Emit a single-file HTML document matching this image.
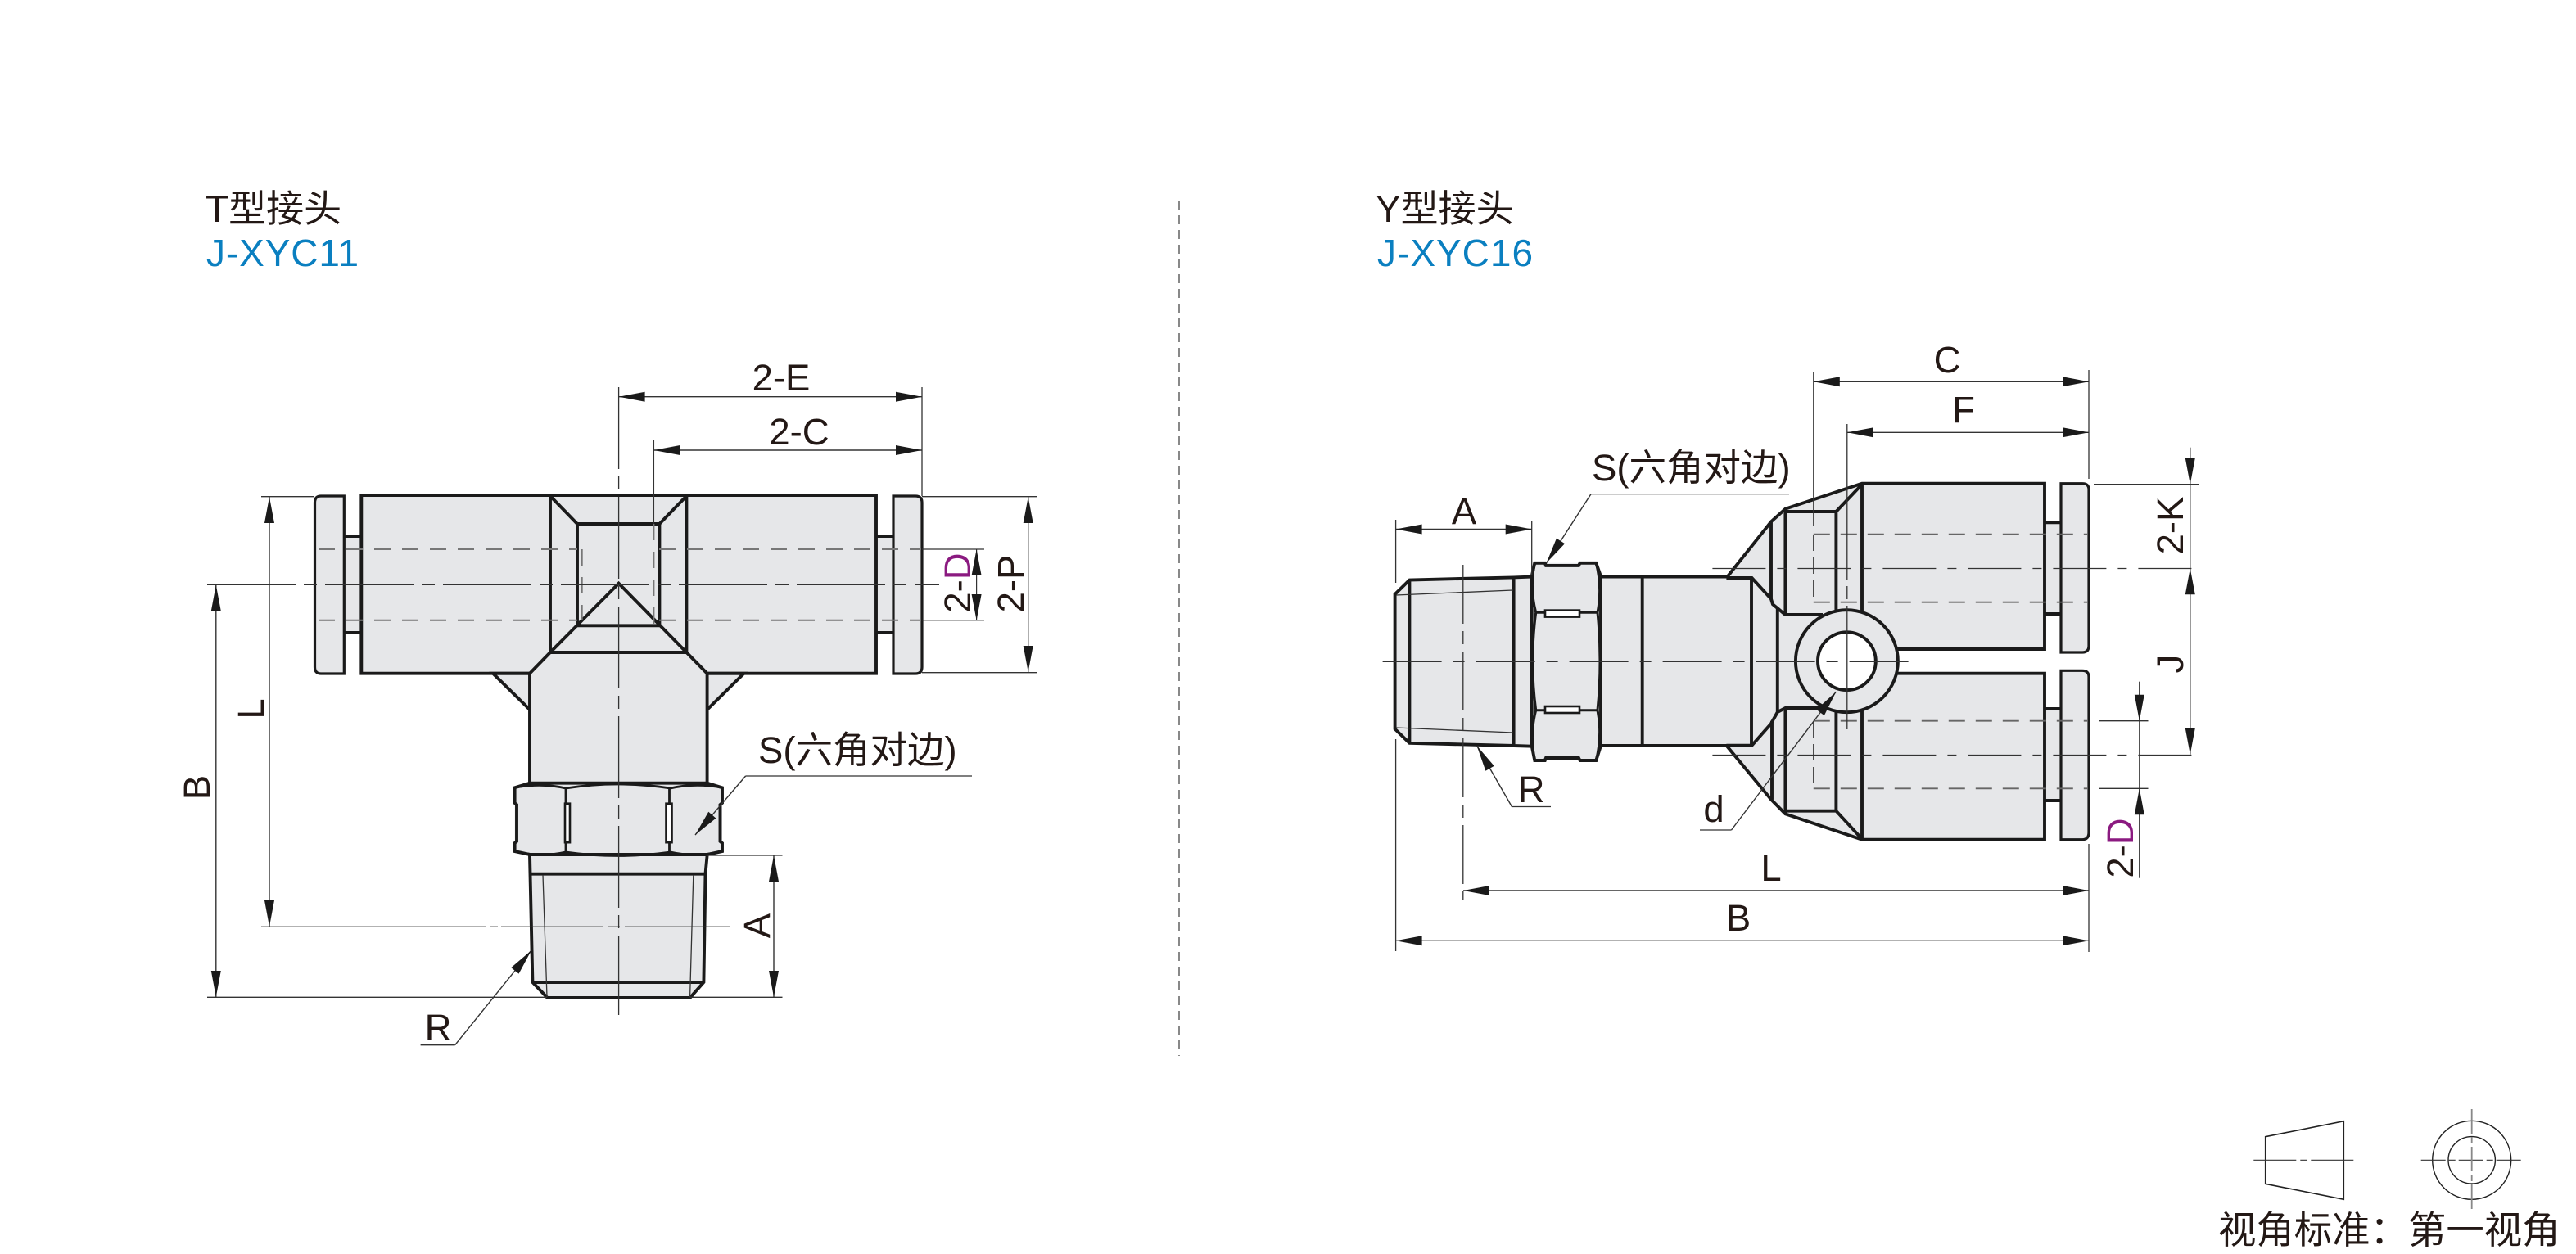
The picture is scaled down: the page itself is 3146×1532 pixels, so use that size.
<!DOCTYPE html>
<html><head><meta charset="utf-8"><title>J-XYC</title>
<style>
html,body{margin:0;padding:0;background:#fff}
svg{display:block}
text{font-family:"Liberation Sans","Noto Sans CJK SC",sans-serif;font-size:45.5px;fill:#231815}
.m{text-anchor:middle}
.o{stroke:#1a1a1a;stroke-width:3.9;fill:none;stroke-linejoin:miter}
.f{fill:#e6e7e9;stroke:none}
.t{stroke:#333;stroke-width:1.3;fill:none}
.c{stroke:#333;stroke-width:1.3;fill:none;stroke-dasharray:100 9 16 9}
.h{stroke:#777;stroke-width:2;fill:none;stroke-dasharray:20 14}
.a{stroke:#333;stroke-width:1.4;fill:none;marker-end:url(#ah)}
.b{stroke:#333;stroke-width:1.4;fill:none;marker-end:url(#ah);marker-start:url(#ah)}
.blue{fill:#0a7fc0}
.pur{fill:#8b1a80}
</style></head>
<body>
<svg width="3146" height="1532" viewBox="0 0 3146 1532" xmlns="http://www.w3.org/2000/svg">
<defs>
<marker id="ah" markerUnits="userSpaceOnUse" markerWidth="36" markerHeight="16" refX="32" refY="6" orient="auto-start-reverse" viewBox="0 0 36 16" overflow="visible"><path d="M0 0L32 6L0 12Z" fill="#1a1a1a"/></marker>
</defs>
<rect width="3146" height="1532" fill="#fff"/>

<!-- titles -->
<text x="251" y="271" style="font-size:46px">T型接头</text>
<text x="252" y="325" class="blue" style="font-size:46px;letter-spacing:.9px">J-XYC11</text>
<text x="1680" y="271" style="font-size:46px">Y型接头</text>
<text x="1682" y="325" class="blue" style="font-size:46px;letter-spacing:1px">J-XYC16</text>

<!-- divider -->
<line x1="1440" y1="245" x2="1440" y2="1290" stroke="#888" stroke-width="2" stroke-dasharray="11 7"/>

<!-- ===== T fitting ===== -->
<g>
<rect class="f" x="441.3" y="605" width="628.7" height="218"/>
<rect class="f" x="420" y="655" width="22" height="118"/>
<rect class="f" x="1070" y="655" width="22" height="118"/>
<path class="f" d="M420.3 606H392Q384.5 606 384.5 614V815Q384.5 823 392 823H420.3Z"/>
<path class="f" d="M1091 606H1118Q1126 606 1126 614V815Q1126 823 1118 823H1091Z"/>
<path class="f" d="M602 822H909L864 867V957H647V867Z"/>
<path class="f" d="M647 1045H863.6L861.5 1067.7L859.4 1200L842.6 1219H668.6L650.4 1200L647.5 1067.7Z"/>
<path class="f" d="M647 956.7H863.6L882 962V1040L863.6 1044H647L628.6 1040V962Z"/>

<path class="o" d="M647 822.7H441.3V605H1070V822.7H863.6"/>
<path class="o" d="M420.3 606H392Q384.5 606 384.5 614V815Q384.5 823 392 823H420.3Z" style="stroke-width:3.2"/>
<path class="o" d="M1091 606H1118Q1126 606 1126 614V815Q1126 823 1118 823H1091Z" style="stroke-width:3.2"/>
<path class="o" d="M420 655H441M420 773H441M1070 655H1091M1070 773H1091"/>
<path class="o" d="M672 606V797H838.4V606M705 640H805.4V764.3H705ZM672 606L705 640M838.4 606L805.4 640"/>
<path class="o" d="M647 957V822.7L672 797L755.6 712.7L838.4 797L863.6 822.7V957" stroke-linejoin="round"/>
<path class="o" d="M647 822.7H602L647 867M863.6 822.7H908.5L863.6 867"/>
<!-- nut -->
<path class="o" d="M647 956.7H863.6L882 962.3V981L879.5 983V1028L882 1030V1040L863.6 1044H647L628.6 1040V1030L631 1028V983L628.6 981V962.3Z"/>
<path class="o" d="M628.6 962.3Q660 956 691 963Q755 953 818.7 963Q850 956 882 962.3M628.6 1040Q660 1048 691 1041Q755 1050 818.7 1041Q850 1048 882 1040M691 963V1041M817.5 963V1041" style="stroke-width:2.8"/>
<rect x="690" y="981.7" width="6" height="47.5" fill="#fff" stroke="#1a1a1a" stroke-width="2.6"/>
<rect x="813.5" y="981.7" width="7" height="47.5" fill="#fff" stroke="#1a1a1a" stroke-width="2.6"/>
<!-- thread -->
<path class="o" d="M647 1045L647.5 1067.7L650.4 1200L668.6 1219H842.6L859.4 1200L861.5 1067.7L863.6 1045M647.5 1067.7H861.5M650.4 1200H859.4"/>
<path class="t" d="M663 1069L668 1218M846.8 1069L842.6 1218"/>

<!-- hidden -->
<path class="h" d="M389 671H705M805 671H1125M389 757.7H705M805 757.7H1125M710.7 671V758M798.4 640V765"/>
<!-- centre lines -->
<path class="c" d="M755.6 473V1240"/>
<path class="c" d="M253 714.3H1147" style="stroke-dasharray:108 10 16 10"/>
<path class="c" d="M319 1132.3H891" style="stroke-dasharray:275 4 10 4 125 6 14 6"/>
<!-- dims -->
<path class="t" d="M798.4 538V640M1126 473V606M319 606.7H384M1126 606.7H1266M1126 821.7H1266M1126 671H1202M1126 757.7H1202"/>
<path class="t" d="M253 1218.3H668M842.6 1218.3H955.5M864 1045H955.5"/>
<path class="b" d="M755.6 484.7H1126"/>
<path class="b" d="M798.4 550H1126"/>
<path class="b" d="M1255.7 607V821"/>
<path class="b" d="M1192.6 671V758" style="stroke-width:1.2"/>
<path class="b" d="M329 607V1132"/>
<path class="b" d="M263.8 714.5V1218"/>
<path class="b" d="M945 1045V1218"/>
<path class="t" d="M1187 948H910.6"/>
<path class="a" d="M910.6 948L849 1020"/>
<path class="a" d="M555.7 1276.7L649 1161"/>
<path class="t" d="M513.6 1276.7H555.7"/>
<!-- labels -->
<text class="m" x="954" y="477">2-E</text>
<text class="m" x="976" y="543">2-C</text>
<text x="926" y="932">S(六角对边)</text>
<text class="m" x="535" y="1271">R</text>
<text class="m" transform="rotate(-90 256 962)" x="256" y="962">B</text>
<text class="m" transform="rotate(-90 322 866)" x="322" y="866">L</text>
<text class="m" transform="rotate(-90 940 1131)" x="940" y="1131">A</text>
<text class="m" transform="rotate(-90 1185 712)" x="1185" y="712">2-<tspan class="pur">D</tspan></text>
<text class="m" transform="rotate(-90 1250 713)" x="1250" y="713">2-P</text>
</g>

<!-- ===== Y fitting ===== -->
<g>
<path class="f" d="M1703.6 726L1721.4 708.5L1848.6 705.4L1870.7 704.6H2108.4L2163 637.3L2180.4 621.7L2274 590.7H2497V793H2316L2255 808L2316 822.7H2497V1025.7H2274L2180.4 994.3L2163 976.7L2108.4 910.7H1870.7L1848.6 911L1721.4 907.8L1703.6 890.6Z"/>
<rect class="f" x="2497" y="638" width="21" height="112"/>
<rect class="f" x="2497" y="866" width="21" height="112"/>
<path class="f" d="M2517 590.7H2543Q2551 590.7 2551 598V789Q2551 797 2543 797H2517Z"/>
<path class="f" d="M2517 819.3H2543Q2551 819.3 2551 827V1017Q2551 1025.7 2543 1025.7H2517Z"/>

<!-- thread -->
<path class="o" d="M1870.7 704.6L1848.6 705.4L1721.4 708.5L1703.6 726V890.6L1721.4 907.8L1848.6 911L1870.7 911.7M1721.4 708.5V907.8M1848.6 705.4V911"/>
<path class="t" d="M1705 727L1848 721M1705 889L1848 895"/>
<!-- nut -->
<path class="f" d="M1874.3 687.8H1949.3L1955 704V911L1949.3 929H1874.3L1870.7 911V704Z"/>
<path class="o" d="M1870.7 704L1874.3 687.8H1886.8L1888 690.9H1928L1929.6 687.8H1949.3L1955 704V911L1949.3 929H1929.6L1928 926H1888L1886.8 929H1874.3L1870.7 911Z"/>
<path class="o" d="M1874.3 687.8Q1868 718 1875.7 748.3Q1868 808 1875.7 867.7Q1868 898 1874.3 929M1949.3 687.8Q1957 718 1951 748.3Q1957 808 1951 867.7Q1957 898 1949.3 929M1875.7 748.3H1951M1875.7 867.7H1951" style="stroke-width:3"/>
<rect x="1887" y="745.6" width="42" height="8" fill="#fff" stroke="#1a1a1a" stroke-width="2.6"/>
<rect x="1887" y="863" width="42" height="8" fill="#fff" stroke="#1a1a1a" stroke-width="2.6"/>
<!-- body -->
<path class="o" d="M1955 704.6H2108.4M1955 911H2108.4M2005.7 704.6V911M2139 706V910M2108.4 706H2139.5L2163 731.7L2165 738.3L2180.4 751H2226M2108.4 910.7H2139.5L2163 884L2170.8 870L2180.4 865H2226M2170.8 743V870"/>
<path class="o" d="M2108.4 706L2163 637.3L2180.4 621.7L2274 590.7H2497V793H2316M2108.4 910.7L2163 976.7L2180.4 994.3L2274 1025.7H2497V822.7H2316"/>
<path class="o" d="M2163 637.3V731.7M2180.4 621.7V751M2180.4 625H2242.4L2274 591.7M2242.4 625V748M2274 590.7V747M2164 880.7V976.7M2180.4 865V994.3M2180.4 990.7H2242.4L2274 1025M2242.4 870V990.7M2274 868V1025.7"/>
<!-- caps -->
<path class="o" d="M2517 590.7H2543Q2551 590.7 2551 598V789Q2551 797 2543 797H2517Z" style="stroke-width:3.2"/>
<path class="o" d="M2517 819.3H2543Q2551 819.3 2551 827V1017Q2551 1025.7 2543 1025.7H2517Z" style="stroke-width:3.2"/>
<path class="o" d="M2497 638.3H2517M2497 750H2517M2497 866H2517M2497 978H2517"/>
<!-- port -->
<circle cx="2255.4" cy="807.7" r="62.5" fill="#e6e7e9" stroke="#1a1a1a" stroke-width="3.9"/>
<circle cx="2255.4" cy="807.7" r="35.4" fill="#fff" stroke="#1a1a1a" stroke-width="3.9"/>

<!-- hidden -->
<path class="h" d="M2214.8 652.7H2550M2214.8 735.7H2550M2214.8 880.7H2550M2214.8 963.3H2550" style="stroke-dasharray:20 13;stroke:#666;stroke-width:1.8"/>
<path class="h" d="M2214.8 653V736M2214.8 881V963" style="stroke-width:1.5;stroke:#444;stroke-dasharray:20 8"/>
<!-- centre lines -->
<path class="c" d="M1688.6 808.3H2331.5" style="stroke-dasharray:72 14 14 14"/>
<path class="c" d="M2091.4 694.5H2686.7" style="stroke-dasharray:65 14 11 14"/>
<path class="c" d="M2091.4 922.5H2686.7" style="stroke-dasharray:65 14 11 14"/>
<path class="c" d="M1786.8 690V1100" style="stroke-dasharray:72 9 16 9"/>
<path class="c" d="M2255.8 518V891" style="stroke-dasharray:190 8 16 8"/>
<!-- dims -->
<path class="t" d="M1704.6 635V712M1704.6 903V1162M1870.7 637V702M2214.8 455V642M2551 452V585M2551 1031V1163M2557 591.7H2685M2563 880.7H2623.5M2563 963.3H2623.5"/>
<path class="b" d="M1704.6 646.5H1870.7"/>
<path class="b" d="M2214.8 466.3H2551"/>
<path class="b" d="M2255.8 528.3H2551"/>
<path class="b" d="M1787 1088H2551"/>
<path class="b" d="M1704.6 1149.3H2551"/>
<path class="a" d="M2674.8 546.7V591.7"/>
<path class="t" d="M2674.8 591.7V694.3"/>
<path class="b" d="M2674.8 694.3V921.7"/>
<path class="a" d="M2612.8 832.7V880.7"/>
<path class="t" d="M2612.8 880.7V963.3"/>
<path class="a" d="M2612.8 1072.7V963.3"/>
<path class="t" d="M2185 603.6H1943"/>
<path class="a" d="M1943 603.6L1888.6 687.8"/>
<path class="a" d="M1846.4 985.5L1803.6 911"/>
<path class="t" d="M1846.4 985.5H1894"/>
<path class="a" d="M2114.5 1014L2242.4 845"/>
<path class="t" d="M2076 1014H2114.5"/>
<!-- labels -->
<text x="1944" y="587">S(六角对边)</text>
<text class="m" x="1788" y="640">A</text>
<text class="m" x="1870" y="980">R</text>
<text class="m" x="2378" y="455">C</text>
<text class="m" x="2398" y="516">F</text>
<text class="m" x="2163" y="1076">L</text>
<text class="m" x="2123" y="1137">B</text>
<text class="m" x="2093" y="1004">d</text>
<text class="m" transform="rotate(-90 2666 642)" x="2666" y="642">2-K</text>
<text class="m" transform="rotate(-90 2666 811)" x="2666" y="811">J</text>
<text class="m" transform="rotate(-90 2605 1036)" x="2605" y="1036">2-<tspan class="pur">D</tspan></text>
</g>

<!-- legend -->
<g>
<path d="M2766.7 1388.7L2862.3 1369.7V1465.3L2766.7 1446.3Z" fill="none" stroke="#222" stroke-width="1.6"/>
<path d="M2752.3 1417.3H2876.7" stroke="#333" stroke-width="1.2" stroke-dasharray="52 5 8 5" fill="none"/>
<circle cx="3018.7" cy="1417.3" r="48" fill="none" stroke="#222" stroke-width="1.4"/>
<circle cx="3018.7" cy="1417.3" r="28.7" fill="none" stroke="#222" stroke-width="1.4"/>
<path d="M2956.7 1417.3H3081" stroke="#333" stroke-width="1.2" stroke-dasharray="30 4 8 4" fill="none"/>
<path d="M3018.7 1355V1479" stroke="#888" stroke-width="1.8" stroke-dasharray="30 4 8 4" fill="none"/>
<text x="2709" y="1519" style="font-size:46.4px;font-family:'Noto Sans CJK SC',sans-serif">视角标准：第一视角</text>
</g>
</svg>
</body></html>
